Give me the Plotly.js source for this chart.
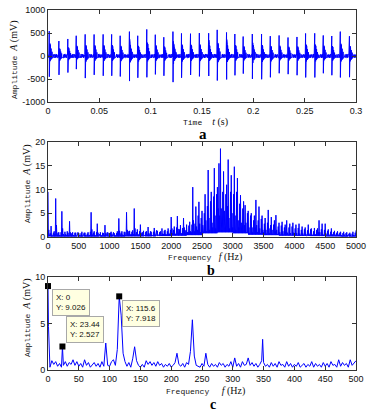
<!DOCTYPE html>
<html><head><meta charset="utf-8">
<script src="https://cdn.plot.ly/plotly-3.0.1.min.js"></script>
<style>html,body{margin:0;padding:0;background:#fff}#chart{width:373px;height:411px}</style>
</head><body><div id="chart"></div>
<script>
// ---------- Panel a: time signal (impulses) ----------
const aImpulseT = [0.0012,0.0106,0.0193,0.0275,0.0362,0.0449,0.0537,0.0620,0.0703,0.0793,0.0874,0.0962,0.1045,0.1128,0.1217,0.1300,0.1388,0.1474,0.1565,0.1648,0.1739,0.1820,0.1901,0.1990,0.2080,0.2165,0.2251,0.2338,0.2425,0.2509,0.2598,0.2681,0.2764,0.2847,0.2936];
const aPosPeak  = [540,325,370,440,470,468,470,470,440,530,440,578,463,408,530,491,485,498,495,568,512,478,423,478,477,432,447,402,414,490,493,447,435,530,430];
const aNegPeak  = [450,410,360,285,480,410,430,430,445,545,473,463,400,430,568,473,413,443,435,533,510,420,383,498,506,463,375,395,418,466,466,375,418,466,460];
// ringing after each impulse: time offset (ms) and relative level
const ringOffsetMs = [0,0.1,0.2,0.3,0.45,0.6,0.75,0.9,1.05,1.2,1.4,1.6,1.8,2.0,2.2,2.4,2.7,3.0,3.3,3.6];
const ringShape    = [1,-1,0.7,-0.35,0.6,-0.3,0.5,-0.25,0.45,-0.2,0.38,-0.18,0.3,-0.15,0.24,-0.12,0.17,-0.1,0.12,-0.08];
// background noise level (mV) between impulses
const aNoise = [35,-30,25,-42,30,-25,44,-35,20,-30,38,-22,30,-40,26,-32,22,-28];
const aXTicks = [0,0.05,0.1,0.15,0.2,0.25,0.3];
const aXText  = ['0','0.05','0.1','0.15','0.2','0.25','0.3'];
const aYTicks = [-1000,-500,0,500,1000];
const aYText  = ['-1000','-500','0','500','1000'];

// ---------- Panel b: spectrum 0-5000 Hz ----------
// peak values on the 25 Hz grid (0, 25, 50, ...)
const bStepHz = 25;
const bAmp = [
 9.5,0.4,2.3,0.3, 1.2,8.1,0.5,1.0, 0.3,5.4,0.6,1.1, 0.4,0.9,3.3,0.5, 1.0,0.3,0.9,0.4,
 0.8,0.3,1.1,0.4, 0.9,0.3,1.0,0.4, 5.2,0.5,1.2,0.3, 2.8,0.4,1.0,0.3, 0.8,2.5,0.4,0.9,
 0.3,1.1,0.4,0.8, 0.3,1.2,3.9,0.5, 1.2,0.4,1.0,5.2, 0.5,1.3,0.6,1.4, 6.0,0.5,1.6,0.4,
 2.6,0.5,1.3,0.4, 1.2,2.1,0.5,1.1, 0.4,1.9,0.6,1.3, 0.5,1.2,1.8,0.6, 1.5,0.5,1.8,0.7,
 4.2,0.8,2.2,0.6, 4.4,0.9,2.5,0.7, 4.0,0.9,2.6,1.0, 3.2,1.0,10.5,1.2, 6.4,1.5,7.4,1.0,
 5.5,0.8,9.0,1.2, 14.1,1.5,9.5,2.0, 14.5,1.8,10.5,15.5, 18.6,1.5,13.8,2.0, 11.0,16.3,1.8,13.0,
 2.0,14.8,1.5,12.4, 2.0,8.8,1.2,7.5, 6.7,1.0,5.5,0.8, 5.0,1.0,4.5,7.8, 1.0,6.4,0.8,4.5,
 1.0,4.0,0.7,5.7, 0.8,4.2,0.6,3.5, 4.6,0.6,3.0,0.5, 3.2,0.5,2.6,3.5, 0.5,2.8,0.4,3.0,
 0.5,2.6,0.4,2.8, 0.4,2.2,0.4,2.0, 0.3,2.6,0.4,1.8, 0.3,1.9,0.4,1.8, 3.5,0.3,2.8,0.4,
 2.8,0.3,1.6,0.3, 1.8,0.3,1.3,0.2, 1.2,0.3,1.1,0.2, 1.1,0.2,1.0,0.3, 0.9,0.2,1.1,0.3,
 1.4];
// peak values half-way between grid points (12.5, 37.5, 62.5, ...)
const bAmpMid = [
 1.5,0.8,0.5,0.9, 0.6,2.5,0.9,0.4, 1.0,1.8,0.3,0.6, 1.2,0.4,1.0,0.8, 0.4,0.9,0.3,1.0,
 0.4,0.8,0.3,0.9, 0.4,0.7,0.3,1.1, 1.6,0.9,0.4,1.0, 0.9,0.6,0.4,0.9, 0.4,0.8,1.0,0.3,
 0.9,0.5,1.0,0.4, 0.8,0.5,1.3,0.9, 0.5,1.1,0.4,1.5, 1.2,0.5,1.1,0.6, 1.8,1.0,0.6,1.2,
 0.9,1.0,0.4,1.1, 0.5,0.8,1.2,0.4, 1.1,0.5,1.4,0.5, 1.0,0.4,0.7,1.3, 0.6,1.2,0.6,1.5,
 1.8,1.5,0.7,2.0, 1.7,1.6,0.8,1.9, 2.0,1.4,1.0,2.4, 1.2,2.6,3.5,2.8, 2.2,4.5,2.8,4.0,
 2.5,5.0,3.5,6.5, 4.0,7.5,3.0,8.5, 4.5,9.0,6.0,4.5, 6.0,9.5,5.5,9.0, 6.5,4.0,9.5,5.0,
 9.0,4.5,9.5,3.5, 7.0,3.0,6.0,2.5, 3.0,5.0,2.0,4.5, 2.0,3.5,2.0,2.5, 3.5,1.8,3.8,1.5,
 2.8,1.5,3.0,1.8, 2.5,1.5,2.6,1.2, 1.5,2.2,1.0,2.4, 1.2,2.0,1.1,0.9, 2.0,0.8,2.2,0.9,
 1.8,0.8,1.9,0.7, 1.5,0.7,1.6,0.6, 1.4,0.7,1.6,0.5, 1.2,0.6,1.5,1.0, 1.0,1.6,0.6,1.5,
 0.7,1.3,0.5,1.1, 0.6,1.0,0.5,0.9, 0.5,0.9,0.4,0.8, 0.5,0.8,0.4,0.7, 0.5,0.7,0.4,0.9];
// lower edge of the dense band, one value per 250 Hz band
const bBandHz = 250;
const bFloor = [0.1,0.1,0.1,0.1,0.1,0.15,0.15,0.2,0.3,0.4,0.8,1.0,0.8,0.5,0.4,0.3,0.25,0.2,0.15,0.1];
const bXTicks = [0,500,1000,1500,2000,2500,3000,3500,4000,4500,5000];
const bYTicks = [0,5,10,15,20];

// ---------- Panel c: zoomed spectrum 0-500 Hz, 3.125 Hz steps + exact peaks ----------
const cStepHz = 3.125;
const cAmp = [
 9.026,0.3,1.0,0.6,0.9,0.4,0.7,0.3,
 0.5,0.9,0.4,0.8,0.6,1.1,0.5,0.9,
 0.4,0.7,0.3,1.1,0.5,0.8,0.3,0.6,
 0.8,0.4,0.7,0.3,0.9,0.4,2.9,0.5,
 0.4,0.9,1.1,0.5,2.2,7.918,5.9,1.8,
 0.9,0.4,0.8,0.3,1.2,2.5,1.0,0.5,
 0.3,0.6,0.3,1.0,0.6,0.9,0.5,0.8,
 0.4,0.9,0.5,0.7,0.3,0.6,0.4,0.7,
 0.3,0.5,0.8,1.8,0.6,0.4,0.7,0.3,
 0.8,0.6,2.0,5.4,1.5,0.5,0.4,0.3,
 0.7,0.4,1.8,0.6,0.3,0.7,0.4,0.6,
 0.3,0.8,0.5,0.7,0.3,0.6,0.4,0.9,
 0.3,1.3,0.4,0.7,0.3,0.9,0.5,0.6,
 1.3,0.5,0.8,0.4,0.7,0.3,0.6,1.0,
 0.8,0.4,0.6,0.3,0.8,0.4,0.7,0.3,
 0.9,0.5,0.6,0.3,0.9,0.4,0.7,0.3,
 0.6,0.4,0.8,0.3,0.5,0.7,0.3,0.6,
 0.4,0.9,0.3,0.7,0.4,0.6,0.3,0.8,
 0.4,0.7,0.3,0.9,0.5,0.6,0.3,1.1,
 0.4,0.8,0.5,0.7,0.3,1.1,0.5,0.8,
 1.0];
const cExtraHz  = [0.78125, 23.4375, 348.4375];
const cExtraAmp = [4.7, 2.527, 3.3];
const cTipX = [0, 23.44, 115.6];
const cTipY = [9.026, 2.527, 7.918];
const cTipBoxX = [6.5, 29.2, 120.1];
const cTipBoxY = [8.71, 5.81, 7.53];
const cXTicks = [0,50,100,150,200,250,300,350,400,450,500];
const cYTicks = [0,5,10];

// ---------- build traces ----------
const ax = [], ay = [];
for (let k = 0; k < aImpulseT.length; k++) {
  const t0 = aImpulseT[k];
  if (k === 0) { for (let i = 0, t = 0; t < t0 - 0.0002; t += 0.0003, i++) { ax.push(t); ay.push(aNoise[i % aNoise.length]); } }
  for (let j = 0; j < ringOffsetMs.length; j++) {
    const s = ringShape[j];
    ax.push(t0 + ringOffsetMs[j] / 1000);
    ay.push(s > 0 ? s * aPosPeak[k] : s * aNegPeak[k]);
  }
  const tEnd = k + 1 < aImpulseT.length ? aImpulseT[k + 1] : 0.3;
  for (let i = 0, t = t0 + 0.0039; t < tEnd - 0.0002; t += 0.0003, i++) { ax.push(t); ay.push(aNoise[(i + k) % aNoise.length]); }
}
// peaks interleaved (0, 12.5, 25, ... Hz) with the band floor between them
const bPeakX = [], bPeakY = [];
bAmp.forEach((v, i) => {
  bPeakX.push(i * bStepHz); bPeakY.push(v);
  if (i < bAmpMid.length) { bPeakX.push(i * bStepHz + bStepHz / 2); bPeakY.push(bAmpMid[i]); }
});
const bx = [], by = [];
bPeakX.forEach((f, i) => {
  bx.push(f); by.push(bPeakY[i]);
  if (i < bPeakX.length - 1) {
    const fm = (f + bPeakX[i + 1]) / 2;
    bx.push(fm); by.push(bFloor[Math.min(bFloor.length - 1, Math.floor(fm / bBandHz))]);
  }
});
const cPairs = cAmp.map((v, i) => [i * cStepHz, v]);
cExtraHz.forEach((f, i) => cPairs.push([f, cExtraAmp[i]]));
cPairs.sort((p, q) => p[0] - q[0]);
const cx = cPairs.map(p => p[0]), cy = cPairs.map(p => p[1]);

const blue = '#0000ff';
const traces = [
  {x: ax, y: ay, xaxis: 'x', yaxis: 'y', type: 'scatter', mode: 'lines', line: {color: blue, width: 1}, hoverinfo: 'skip'},
  {x: bx, y: by, xaxis: 'x2', yaxis: 'y2', type: 'scatter', mode: 'lines', line: {color: blue, width: 1}, hoverinfo: 'skip'},
  {x: cx, y: cy, xaxis: 'x3', yaxis: 'y3', type: 'scatter', mode: 'lines', line: {color: blue, width: 1}, hoverinfo: 'skip'},
  {x: cTipX, y: cTipY, xaxis: 'x3', yaxis: 'y3', type: 'scatter', mode: 'markers', cliponaxis: false,
   marker: {symbol: 'square', size: 6, color: '#000'}, hoverinfo: 'skip'}
];

const tickFont = {family: 'Liberation Sans, Arial, sans-serif', size: 9, color: '#111'};
function axisBase(extra) {
  return Object.assign({ticks: 'inside', ticklen: 4, tickcolor: '#333', showline: true, linecolor: '#333', linewidth: 1,
    mirror: 'ticks', showgrid: false, zeroline: false, tickfont: tickFont, automargin: false, fixedrange: true}, extra);
}
const H = 411, L = 48, W = 308;
const py = v => (H - v) / H;       // pixel row -> paper y
const px = v => (v - L) / W;       // pixel col -> paper x
const mono = t => '<span style="font-family:Liberation Mono, monospace;font-size:8px">' + t + '</span>';
const titleFont = {family: 'Liberation Serif, Times New Roman, serif', size: 10, color: '#111'};
const labelFont = {family: 'Liberation Serif, serif', size: 14, color: '#000'};
const annotations = [
  {text: mono('Amplitude') + '&nbsp;&nbsp;<i>A</i> (mV)', x: px(14), y: py(60), textangle: -90},
  {text: mono('Amplitude') + '&nbsp;&nbsp;<i>A</i> (mV)', x: px(27), y: py(184), textangle: -90},
  {text: mono('Amplitude') + '&nbsp;&nbsp;<i>A</i> (mV)', x: px(27), y: py(318), textangle: -90},
  {text: mono('Time') + '&nbsp;&nbsp;&nbsp;&nbsp;<i>t</i> (s)', x: px(205), y: py(122)},
  {text: mono('Frequency') + '&nbsp;&nbsp;&nbsp;<i>f</i> (Hz)', x: px(205), y: py(257)},
  {text: mono('Frequency') + '&nbsp;&nbsp;&nbsp;&nbsp;&nbsp;<i>f</i> (Hz)', x: px(205), y: py(391)},
  {text: '<b>a</b>', x: px(203), y: py(124), yanchor: 'top', font: {family: 'Liberation Serif, serif', size: 15, color: '#000'}},
  {text: '<b>b</b>', x: px(211), y: py(261), yanchor: 'top', font: labelFont},
  {text: '<b>c</b>', x: px(213), y: py(395), yanchor: 'top', font: labelFont}
].map(a => Object.assign({xref: 'paper', yref: 'paper', showarrow: false, xanchor: 'center', yanchor: 'middle', font: titleFont}, a));

cTipX.forEach((xv, i) => {
  annotations.push({xref: 'x3', yref: 'y3', x: cTipBoxX[i], y: cTipBoxY[i], xanchor: 'left', yanchor: 'top',
    text: 'X: ' + xv + '<br>Y: ' + cTipY[i], align: 'left', showarrow: false,
    bgcolor: '#ffffe1', bordercolor: '#a8a8a8', borderwidth: 1, borderpad: 3,
    font: {family: 'Liberation Sans, Arial, sans-serif', size: 8, color: '#111'}});
});

const layout = {
  width: 373, height: 411, margin: {l: 48, r: 17, t: 0, b: 0}, showlegend: false,
  paper_bgcolor: '#fff', plot_bgcolor: '#fff',
  xaxis: axisBase({domain: [0, 1], anchor: 'y', range: [0, 0.3], tickvals: aXTicks, ticktext: aXText}),
  yaxis: axisBase({domain: [py(102), py(10)], anchor: 'x', range: [-1000, 1000], tickvals: aYTicks, ticktext: aYText}),
  xaxis2: axisBase({domain: [0, 1], anchor: 'y2', range: [0, 5000], tickvals: bXTicks}),
  yaxis2: axisBase({domain: [py(237), py(142)], anchor: 'x2', range: [0, 20], tickvals: bYTicks}),
  xaxis3: axisBase({domain: [0, 1], anchor: 'y3', range: [0, 500], tickvals: cXTicks}),
  yaxis3: axisBase({domain: [py(370), py(277)], anchor: 'x3', range: [0, 10], tickvals: cYTicks}),
  annotations: annotations
};
Plotly.newPlot('chart', traces, layout, {staticPlot: true, displayModeBar: false});
</script></body></html>
